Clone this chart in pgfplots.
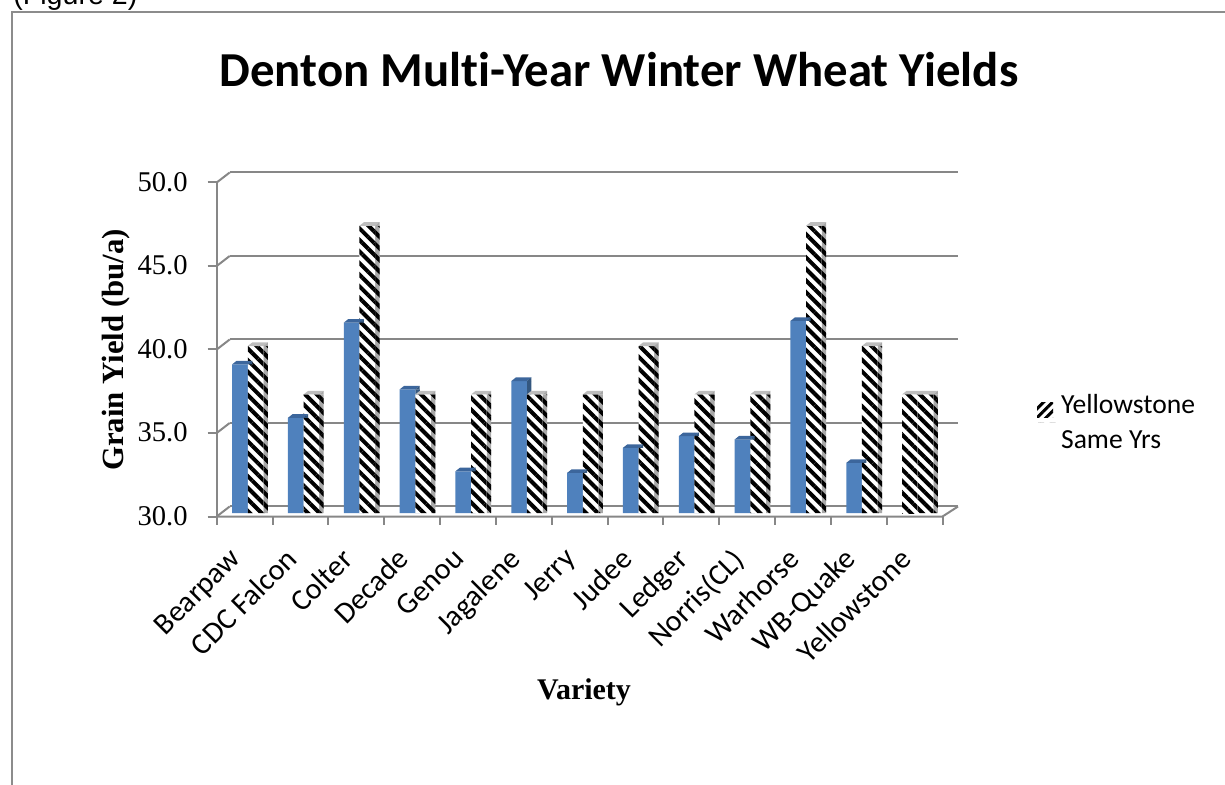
\documentclass[border=0pt]{standalone}
\usepackage{fontspec}
\setmainfont{Carlito}[Ligatures={NoCommon}]
\newfontfamily\lserif{Liberation Serif}
\newfontfamily\lsans{Liberation Sans}
\usepackage{pgfplots}
\pgfplotsset{compat=1.18}
\usepackage{pgfplotstable}
\usetikzlibrary{patterns.meta}

\definecolor{barblue}{HTML}{4F81BD}
\definecolor{blueside}{HTML}{34577F}
\definecolor{bluecap}{HTML}{3C669C}
\definecolor{gridgray}{HTML}{878787}
\definecolor{framegray}{HTML}{8C8C8C}
\definecolor{hatchside}{HTML}{A8A8A8}
\definecolor{hatchcap}{HTML}{BDBDBD}

\pgfdeclareplotmark{capblue}{%
  \pgfpathmoveto{\pgfqpoint{-3.9pt}{0pt}}%
  \pgfpathlineto{\pgfqpoint{3.9pt}{0pt}}%
  \pgfpathlineto{\pgfqpoint{6.15pt}{1.8pt}}%
  \pgfpathlineto{\pgfqpoint{-1.65pt}{1.8pt}}%
  \pgfpathclose
  \pgfsetfillcolor{bluecap}\pgfusepath{fill}%
  \pgfpathmoveto{\pgfqpoint{3.9pt}{0pt}}%
  \pgfpathlineto{\pgfqpoint{6.15pt}{1.8pt}}%
  \pgfpathlineto{\pgfqpoint{6.15pt}{0pt}}%
  \pgfpathclose
  \pgfsetfillcolor{blueside}\pgfusepath{fill}%
}
\pgfdeclareplotmark{capgray}{%
  \pgfpathmoveto{\pgfqpoint{-3.9pt}{0pt}}%
  \pgfpathlineto{\pgfqpoint{3.9pt}{0pt}}%
  \pgfpathlineto{\pgfqpoint{6.15pt}{1.8pt}}%
  \pgfpathlineto{\pgfqpoint{-1.65pt}{1.8pt}}%
  \pgfpathclose
  \pgfsetfillcolor{hatchcap}\pgfusepath{fill}%
  \pgfpathmoveto{\pgfqpoint{3.9pt}{0pt}}%
  \pgfpathlineto{\pgfqpoint{6.15pt}{1.8pt}}%
  \pgfpathlineto{\pgfqpoint{6.15pt}{0pt}}%
  \pgfpathclose
  \pgfsetfillcolor{hatchside}\pgfusepath{fill}%
}

\pgfplotstableread{
x blue hatch
0 38.9 40.0
1 35.7 37.1
2 41.4 47.2
3 37.4 37.1
4 32.5 37.1
5 37.9 37.1
6 32.4 37.1
7 33.9 40.0
8 34.6 37.1
9 34.4 37.1
10 41.5 47.2
11 33.0 40.0
12 nan 37.1
}\data

\pgfplotstableread{
x ys
12 37.1
}\ysleft

\tikzset{hatchpat/.style={pattern={Lines[angle=-45,distance=4.1pt,line width=2pt]}}}

\begin{document}
\begin{tikzpicture}
\useasboundingbox (0pt,0pt) rectangle (612.5pt,-392.5pt);

\begin{scope}[x=0.5pt,y=-0.5pt]
  % frame
  \draw[framegray, line width=1pt] (12,790) -- (12,12) -- (1230,12);
  \node[anchor=base west, inner sep=0pt, font=\lsans\fontsize{14.3}{16}\selectfont] at (13,5) {(Figure 2)};
  % title
  \node[anchor=base, inner sep=0pt, font=\bfseries\fontsize{24.4}{29}\selectfont] at (619,86.7) {Denton Multi-Year Winter Wheat Yields};
  % walls and grid
  \foreach \v in {30,35,40,45,50} {
    \pgfmathsetmacro\yb{506.5-(\v-30)*16.7}
    \pgfmathsetmacro\yf{\yb+10}
    \draw[gridgray, line width=1pt] (229.7,\yb) -- (958,\yb);
    \draw[gridgray, line width=1pt] (216.7,\yf) -- (229.7,\yb);
    \draw[gridgray, line width=1pt] (207.7,\yf) -- (216.7,\yf);
  }
  \draw[gridgray, line width=1pt] (216.7,182.5) -- (216.7,516.5);
  \draw[gridgray, line width=1pt] (216.7,516.5) -- (942.5,516.5) -- (958,506.5);
  \foreach \k in {0,...,13} {
    \draw[gridgray, line width=1pt] ({216.7+\k*55.83},516.5) -- ({216.7+\k*55.83},525);
  }
  % axis titles
  \node[rotate=90, inner sep=0pt, font=\lserif\bfseries\fontsize{15.4}{18}\selectfont] at (116.5,350) {Grain Yield (bu/a)};
  \node[inner sep=0pt, font=\lserif\bfseries\fontsize{15}{18}\selectfont] at (584,692) {Variety};
\end{scope}

\begin{axis}[
  at={(111.6pt,-256.5pt)}, anchor=south west,
  scale only axis, width=362.9pt, height=167pt,
  xmin=-0.5, xmax=12.5, ymin=30, ymax=50,
  axis line style={draw=none},
  major tick length=0pt,
  ytick={30,35,40,45,50},
  yticklabel style={anchor=east, inner sep=0pt, xshift=-17.6pt, yshift=-1.5pt,
     font=\lserif\fontsize{14.3}{16}\selectfont,
     /pgf/number format/.cd, fixed, fixed zerofill, precision=1, assume math mode=true},
  xtick={0,...,12},
  xticklabels={Bearpaw,CDC Falcon,Colter,Decade,Genou,Jagalene,Jerry,Judee,Ledger,Norris(CL),Warhorse,WB-Quake,Yellowstone},
  xticklabel style={xshift=-11.5pt, yshift=-16.5pt, rotate=45, anchor=north east, inner sep=0pt,
     font=\fontsize{15}{17}\selectfont},
  legend style={at={(1.1208,0.3623)}, anchor=north west, draw=none, fill=none,
     font=\fontsize{13.8}{17.5}\selectfont, inner sep=0pt,
     nodes={align=left, inner sep=1pt}},
  legend cell align=left,
]
% blue side
\addplot[ybar, bar width=0.0806, bar shift=-0.0197, fill=blueside, draw=none, forget plot] table[x=x,y=blue]{\data};
% blue front
\addplot[ybar, bar width=0.28, bar shift=-0.2, fill=barblue, draw=none, forget plot] table[x=x,y=blue]{\data};
% blue caps
\addplot[only marks, mark=capblue, forget plot] table[x expr=\thisrow{x}-0.2, y=blue]{\data};
% Yellowstone left hatched bar
\addplot[ybar, bar width=0.28, bar shift=-0.2, fill=white, draw=none, forget plot] table[x=x,y=ys]{\ysleft};
\addplot[ybar, bar width=0.28, bar shift=-0.2, draw=none, hatchpat, forget plot] table[x=x,y=ys]{\ysleft};
\addplot[only marks, mark=capgray, forget plot] table[x expr=\thisrow{x}-0.2, y=ys]{\ysleft};
% hatch side
\addplot[ybar, bar width=0.0806, bar shift=0.2603, fill=hatchside, draw=none, forget plot] table[x=x,y=hatch]{\data};
\addplot[ybar, bar width=0.0806, bar shift=0.2603, draw=none, hatchpat, forget plot] table[x=x,y=hatch]{\data};
% hatch front
\addplot[ybar, bar width=0.28, bar shift=0.08, fill=white, draw=none, forget plot] table[x=x,y=hatch]{\data};
\addplot[ybar, bar width=0.28, bar shift=0.08, draw=none, hatchpat,
  legend image code/.code={
    \path (0pt,0pt) -- (11pt,0pt);
    \fill[pattern={Lines[angle=45,distance=3.2pt,line width=1.5pt]}] (0pt,2.6pt) rectangle (8pt,10.1pt);
  }] table[x=x,y=hatch]{\data};
\addlegendentry{Yellowstone\\Same Yrs}
% hatch caps
\addplot[only marks, mark=capgray, forget plot] table[x expr=\thisrow{x}+0.08, y=hatch]{\data};
\end{axis}
\end{tikzpicture}
\end{document}
